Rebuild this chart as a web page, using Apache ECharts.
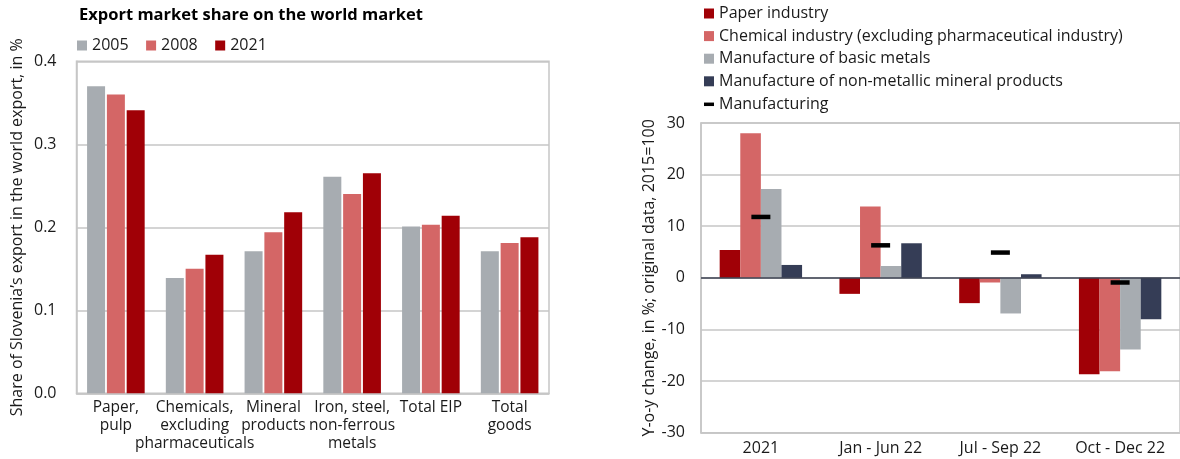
<!DOCTYPE html>
<html>
<head>
<meta charset="utf-8">
<script src="https://cdn.jsdelivr.net/npm/echarts@6/dist/echarts.min.js"></script>
<style>
  html, body { margin: 0; padding: 0; background: #fff; }
  #chart { width: 1180px; height: 459px; }
</style>
</head>
<body>
<div id="chart"></div>
<script>
// Left panel: export market share on the world market, in %
const shareCategories = ['Paper,\npulp', 'Chemicals,\nexcluding\npharmaceuticals', 'Mineral\nproducts', 'Iron, steel,\nnon-ferrous\nmetals', 'Total EIP', 'Total\ngoods'];
const share2005 = [0.370, 0.139, 0.171, 0.261, 0.201, 0.171];
const share2008 = [0.360, 0.150, 0.194, 0.240, 0.203, 0.181];
const share2021 = [0.341, 0.167, 0.218, 0.265, 0.214, 0.188];
const shareTicks = [0, 0.1, 0.2, 0.3, 0.4];

// Right panel: y-o-y change, in %
const periods = ['2021', 'Jan - Jun 22', 'Jul - Sep 22', 'Oct - Dec 22'];
const paperIndustry = [5.4, -3.1, -4.9, -18.7];
const chemicalIndustry = [28.0, 13.8, -0.9, -18.1];
const basicMetals = [17.2, 2.3, -6.9, -13.9];
const nonMetallicMinerals = [2.5, 6.7, 0.7, -8.0];
const manufacturing = [11.8, 6.3, 4.9, -0.9];
const changeTicks = [-30, -20, -10, 0, 10, 20, 30];

const FONT = '"Open Sans", "Noto Sans", sans-serif';
const TEXT = '#1a1a1a';
const GRID_GREY = '#c6c6c6';
const C_GREY = '#a7acb1';
const C_SALMON = '#d46666';
const C_DARKRED = '#a00006';
const C_NAVY = '#353d56';

const chart = echarts.init(document.getElementById('chart'), null, { renderer: 'canvas' });

const barSeriesLeft = (name, data, color) => ({
  name, type: 'bar', xAxisIndex: 0, yAxisIndex: 0, data,
  barWidth: 18, barGap: '10%',
  itemStyle: { color }
});

const barSeriesRight = (name, data, color, extra) => Object.assign({
  name, type: 'bar', xAxisIndex: 1, yAxisIndex: 1, data,
  barWidth: 20.6, barGap: '0%',
  itemStyle: { color }
}, extra || {});

const legendText = { fontFamily: FONT, fontSize: 16, lineHeight: 16, color: TEXT };

const option = {
  animation: false,
  textStyle: { fontFamily: FONT, color: TEXT },
  title: {
    text: 'Export market share on the world market',
    left: 79, top: 7, padding: 0,
    textStyle: { fontFamily: FONT, fontSize: 16.5, fontWeight: 'bold', color: '#000' }
  },
  legend: [
    {
      data: ['2005', '2008', '2021'],
      left: 77, top: 37.5, padding: 0,
      orient: 'horizontal',
      itemWidth: 10, itemHeight: 10, itemGap: 17.5,
      icon: 'rect', selectedMode: false,
      textStyle: legendText
    },
    {
      data: ['Paper industry', 'Chemical industry (excluding pharmaceutical industry)', 'Manufacture of basic metals', 'Manufacture of non-metallic mineral products'],
      left: 704, top: 5.5, padding: 0,
      orient: 'vertical',
      itemWidth: 10, itemHeight: 10, itemGap: 6.6,
      icon: 'rect', selectedMode: false,
      textStyle: legendText
    },
    {
      data: ['Manufacturing'],
      left: 704, top: 96.3, padding: 0,
      orient: 'vertical',
      itemWidth: 10, itemHeight: 3.5,
      icon: 'rect', selectedMode: false,
      itemStyle: { opacity: 1 },
      textStyle: legendText
    }
  ],
  grid: [
    { left: 76.5, top: 61.3, width: 472.5, height: 332, show: true, borderColor: GRID_GREY, borderWidth: 1.5, containLabel: false },
    { left: 701, top: 123, right: -1, height: 309.7, show: true, borderColor: GRID_GREY, borderWidth: 1.5, containLabel: false }
  ],
  xAxis: [
    {
      gridIndex: 0, type: 'category', data: shareCategories,
      axisLine: { lineStyle: { color: GRID_GREY, width: 1.5 } },
      axisTick: { show: false },
      axisLabel: { interval: 0, margin: 5, fontFamily: FONT, fontSize: 15.5, lineHeight: 18.3, color: TEXT, align: 'center' }
    },
    {
      gridIndex: 1, type: 'category', data: periods,
      axisLine: { onZero: false, lineStyle: { color: GRID_GREY, width: 1.5 } },
      axisTick: { show: false },
      axisLabel: { interval: 0, margin: 7, fontFamily: FONT, fontSize: 16, lineHeight: 18, color: TEXT }
    }
  ],
  yAxis: [
    {
      gridIndex: 0, type: 'value',
      min: shareTicks[0], max: shareTicks[shareTicks.length - 1], interval: 0.1,
      name: 'Share of Slovenia\u2019s export in the world export, in %',
      nameLocation: 'middle', nameGap: 51,
      nameTextStyle: { fontFamily: FONT, fontSize: 16, color: TEXT },
      axisLine: { show: true, lineStyle: { color: GRID_GREY, width: 1.5 } },
      axisTick: { show: false },
      axisLabel: { margin: 20, fontFamily: FONT, fontSize: 16, color: TEXT, formatter: v => v.toFixed(1) },
      splitLine: { lineStyle: { color: GRID_GREY, width: 1.5 } }
    },
    {
      gridIndex: 1, type: 'value',
      min: changeTicks[0], max: changeTicks[changeTicks.length - 1], interval: 10,
      name: 'Y-o-y change, in %; original data, 2015=100',
      nameLocation: 'middle', nameGap: 44,
      nameTextStyle: { fontFamily: FONT, fontSize: 16, color: TEXT },
      axisLine: { show: true, lineStyle: { color: GRID_GREY, width: 1.5 } },
      axisTick: { show: false },
      axisLabel: { margin: 16, fontFamily: FONT, fontSize: 16, color: TEXT },
      splitLine: { lineStyle: { color: GRID_GREY, width: 1.5 } }
    }
  ],
  series: [
    barSeriesLeft('2005', share2005, C_GREY),
    barSeriesLeft('2008', share2008, C_SALMON),
    barSeriesLeft('2021', share2021, C_DARKRED),
    barSeriesRight('Paper industry', paperIndustry, C_DARKRED, {
      markLine: {
        silent: true, symbol: ['none', 'none'], label: { show: false },
        lineStyle: { color: '#3b4150', width: 1.5, type: 'solid' },
        data: [{ yAxis: 0 }], z: 5
      }
    }),
    barSeriesRight('Chemical industry (excluding pharmaceutical industry)', chemicalIndustry, C_SALMON),
    barSeriesRight('Manufacture of basic metals', basicMetals, C_GREY),
    barSeriesRight('Manufacture of non-metallic mineral products', nonMetallicMinerals, C_NAVY),
    {
      name: 'Manufacturing', type: 'scatter', xAxisIndex: 1, yAxisIndex: 1,
      data: manufacturing,
      symbol: 'rect', symbolSize: [19, 4.5],
      itemStyle: { color: '#000', opacity: 1 }, z: 10
    }
  ]
};

chart.setOption(option);
</script>
</body>
</html>
